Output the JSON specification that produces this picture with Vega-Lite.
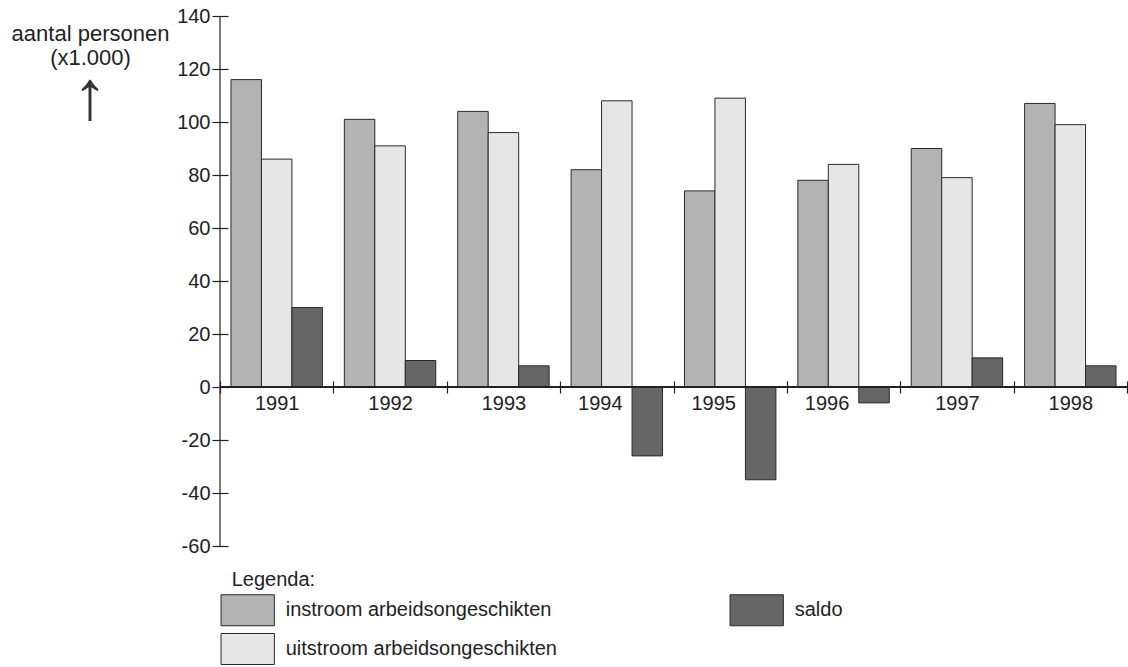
{
  "$schema": "https://vega.github.io/schema/vega-lite/v6.json",
  "width": 907,
  "height": 530,
  "autosize": "none",
  "padding": {"left": 220, "top": 16, "right": 1, "bottom": 121},
  "background": "white",
  "config": {
    "view": {"stroke": null},
    "font": "Liberation Sans",
    "axis": {"grid": false}
  },
  "title": {
    "text": "↑",
    "anchor": "start",
    "align": "center",
    "frame": "group",
    "orient": "top",
    "offset": 0,
    "baseline": "alphabetic",
    "font": "Liberation Sans",
    "fontSize": 70,
    "fontWeight": "normal",
    "color": "#333",
    "dx": -130,
    "dy": 183
  },
  "data": {
    "values": [
      {"year": "1991", "series": "instroom arbeidsongeschikten", "value": 116},
      {"year": "1991", "series": "uitstroom arbeidsongeschikten", "value": 86},
      {"year": "1991", "series": "saldo", "value": 30},
      {"year": "1992", "series": "instroom arbeidsongeschikten", "value": 101},
      {"year": "1992", "series": "uitstroom arbeidsongeschikten", "value": 91},
      {"year": "1992", "series": "saldo", "value": 10},
      {"year": "1993", "series": "instroom arbeidsongeschikten", "value": 104},
      {"year": "1993", "series": "uitstroom arbeidsongeschikten", "value": 96},
      {"year": "1993", "series": "saldo", "value": 8},
      {"year": "1994", "series": "instroom arbeidsongeschikten", "value": 82},
      {"year": "1994", "series": "uitstroom arbeidsongeschikten", "value": 108},
      {"year": "1994", "series": "saldo", "value": -26},
      {"year": "1995", "series": "instroom arbeidsongeschikten", "value": 74},
      {"year": "1995", "series": "uitstroom arbeidsongeschikten", "value": 109},
      {"year": "1995", "series": "saldo", "value": -35},
      {"year": "1996", "series": "instroom arbeidsongeschikten", "value": 78},
      {"year": "1996", "series": "uitstroom arbeidsongeschikten", "value": 84},
      {"year": "1996", "series": "saldo", "value": -6},
      {"year": "1997", "series": "instroom arbeidsongeschikten", "value": 90},
      {"year": "1997", "series": "uitstroom arbeidsongeschikten", "value": 79},
      {"year": "1997", "series": "saldo", "value": 11},
      {"year": "1998", "series": "instroom arbeidsongeschikten", "value": 107},
      {"year": "1998", "series": "uitstroom arbeidsongeschikten", "value": 99},
      {"year": "1998", "series": "saldo", "value": 8}
    ]
  },
  "layer": [
    {
      "mark": {"type": "bar", "stroke": "#2a2a2a", "strokeWidth": 1},
      "encoding": {
        "x": {
          "field": "year",
          "type": "nominal",
          "scale": {"paddingInner": 0, "paddingOuter": 0},
          "axis": {
            "title": null,
            "orient": "bottom",
            "offset": -165,
            "domain": false,
            "tickBand": "extent",
            "tickSize": 12,
            "tickColor": "#222",
            "tickWidth": 1.2,
            "labelAngle": 0,
            "labelFontSize": 20,
            "labelColor": "#222",
            "labelPadding": 0,
            "labelOffset": {
              "condition": {"test": "indexof(['1994','1995','1996'], datum.value) >= 0", "value": -17},
              "value": 0
            }
          }
        },
        "xOffset": {
          "field": "series",
          "type": "nominal",
          "scale": {
            "domain": ["instroom arbeidsongeschikten", "uitstroom arbeidsongeschikten", "saldo"],
            "paddingInner": 0,
            "paddingOuter": 0.36
          }
        },
        "y": {
          "field": "value",
          "type": "quantitative",
          "scale": {"domain": [-60, 140], "nice": false},
          "axis": {
            "title": ["aantal personen", "(x1.000)"],
            "values": [-60, -40, -20, 0, 20, 40, 60, 80, 100, 120, 140],
            "labelExpr": "'' + datum.value",
            "offset": -8,
            "domain": false,
            "tickSize": 16,
            "tickColor": "#222",
            "tickWidth": 1.2,
            "labelFontSize": 20,
            "labelColor": "#222",
            "labelPadding": 2,
            "labelFlush": false,
            "labelOverlap": false,
            "titleAngle": 0,
            "titleAlign": "center",
            "titleBaseline": "alphabetic",
            "titleX": -138,
            "titleY": 24,
            "titleFontSize": 22,
            "titleFontWeight": "normal",
            "titleColor": "#222",
            "titleLineHeight": 24
          }
        },
        "color": {
          "field": "series",
          "type": "nominal",
          "scale": {
            "domain": ["instroom arbeidsongeschikten", "saldo", "uitstroom arbeidsongeschikten"],
            "range": ["#b3b3b3", "#666666", "#e6e6e6"]
          },
          "legend": {
            "orient": "none",
            "legendX": 11.7,
            "legendY": 554,
            "direction": "horizontal",
            "columns": 2,
            "padding": 0,
            "title": "Legenda:",
            "titleFontSize": 20,
            "titleFontWeight": "normal",
            "titleColor": "#222",
            "titlePadding": 4,
            "labelFontSize": 20,
            "labelColor": "#222",
            "labelLimit": 400,
            "labelOffset": 22,
            "symbolType": "M-1.72,-1H1.72V1H-1.72Z",
            "symbolSize": 961,
            "symbolStrokeColor": "#2a2a2a",
            "symbolStrokeWidth": 1,
            "symbolOpacity": 1,
            "columnPadding": 170,
            "rowPadding": 3
          }
        }
      }
    },
    {
      "mark": {"type": "rule", "color": "#222", "strokeWidth": 1.2},
      "encoding": {"y": {"datum": 0}}
    },
    {
      "transform": [{"filter": "datum.year === '1991' && datum.series === 'saldo'"}],
      "mark": {"type": "rule", "color": "#222", "strokeWidth": 1.2},
      "encoding": {
        "x": {"field": "year", "type": "nominal", "bandPosition": 0},
        "y": {"datum": -60},
        "y2": {"datum": 140}
      }
    }
  ]
}
